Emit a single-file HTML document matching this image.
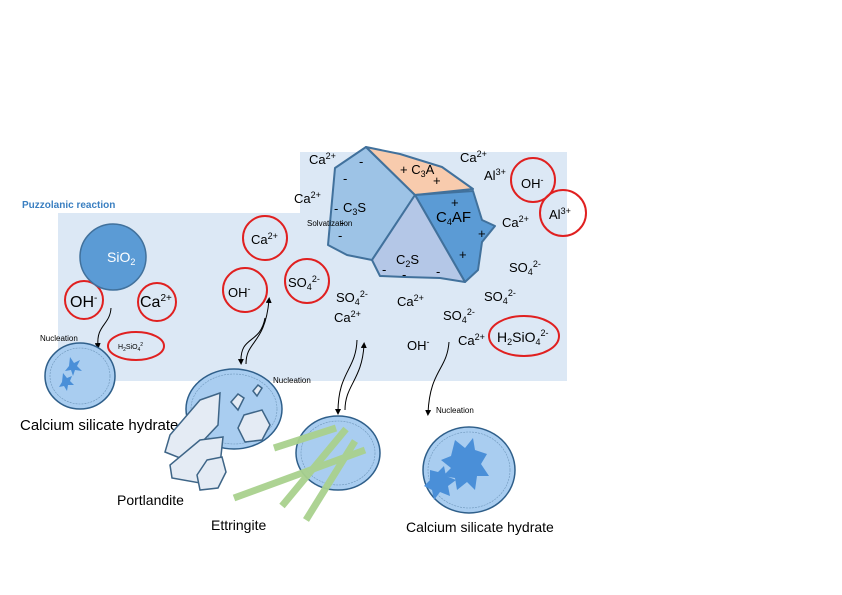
<!DOCTYPE html>
<html><head><meta charset="utf-8"><style>
html,body{margin:0;padding:0;background:#fff;}
svg{display:block;font-family:"Liberation Sans","DejaVu Sans",sans-serif;}
</style></head><body>
<svg width="842" height="595" viewBox="0 0 842 595" xmlns="http://www.w3.org/2000/svg">
<defs>
<marker id="ah" markerWidth="6" markerHeight="6" refX="3" refY="3" orient="auto"><path d="M0,0 L6,3 L0,6 z" fill="#000"/></marker>
</defs>
<!-- background -->
<path d="M300,152 H567 V381 H58 V213 H300 Z" fill="#dce8f5"/>
<text x="22" y="208" font-size="10" font-weight="bold" fill="#3a7fc1">Puzzolanic reaction</text>

<!-- cement grain -->
<g stroke="#41719c" stroke-width="2" stroke-linejoin="round">
<polygon points="366,147 335,168 328,245 347,255 372,260 415,195" fill="#9dc3e6"/>
<polygon points="366,147 400,154 442,167 473,189 415,195" fill="#f8cbad"/>
<polygon points="415,195 473,191 482,220 495,226 482,242 478,270 465,282" fill="#5b9bd5"/>
<polygon points="415,195 465,282 440,278 405,277 380,276 372,260" fill="#b4c7e7"/>
</g>
<g font-size="13" fill="#000">
<text x="400" y="174">+ C<tspan font-size="9" dy="3">3</tspan><tspan dy="-3">A</tspan></text>
<text x="433" y="185">+</text>
<text x="359" y="166">-</text>
<text x="343" y="183">-</text>
<text x="343" y="212">C<tspan font-size="9" dy="3">3</tspan><tspan dy="-3">S</tspan></text>
<text x="334" y="213">-</text>
<text x="338" y="240">-</text>
<text x="340" y="227">-</text>
<text x="451" y="207">+</text>
<text x="436" y="222" font-size="15">C<tspan font-size="9" dy="3">4</tspan><tspan dy="-3">AF</tspan></text>
<text x="478" y="238">+</text>
<text x="459" y="259">+</text>
<text x="396" y="264">C<tspan font-size="9" dy="3">2</tspan><tspan dy="-3">S</tspan></text>
<text x="382" y="274">-</text>
<text x="402" y="279">-</text>
<text x="436" y="276">-</text>
<text x="307" y="226" font-size="8">Solvatization</text>
</g>

<!-- free ion labels -->
<g font-size="13" fill="#000">
<text x="309" y="164">Ca<tspan font-size="9" dy="-5">2+</tspan></text>
<text x="294" y="203">Ca<tspan font-size="9" dy="-5">2+</tspan></text>
<text x="460" y="162">Ca<tspan font-size="9" dy="-5">2+</tspan></text>
<text x="484" y="180">Al<tspan font-size="9" dy="-5">3+</tspan></text>
<text x="502" y="227">Ca<tspan font-size="9" dy="-5">2+</tspan></text>
<text x="509" y="272">SO<tspan font-size="9" dy="3">4</tspan><tspan font-size="9" dy="-8">2-</tspan></text>
<text x="484" y="301">SO<tspan font-size="9" dy="3">4</tspan><tspan font-size="9" dy="-8">2-</tspan></text>
<text x="443" y="320">SO<tspan font-size="9" dy="3">4</tspan><tspan font-size="9" dy="-8">2-</tspan></text>
<text x="336" y="302">SO<tspan font-size="9" dy="3">4</tspan><tspan font-size="9" dy="-8">2-</tspan></text>
<text x="334" y="322">Ca<tspan font-size="9" dy="-5">2+</tspan></text>
<text x="397" y="306">Ca<tspan font-size="9" dy="-5">2+</tspan></text>
<text x="407" y="350">OH<tspan font-size="9" dy="-5">-</tspan></text>
<text x="458" y="345">Ca<tspan font-size="9" dy="-5">2+</tspan></text>
</g>

<!-- red circled ions -->
<g fill="none" stroke="#e02020" stroke-width="2">
<circle cx="84" cy="300" r="19"/>
<circle cx="157" cy="302" r="19"/>
<ellipse cx="136" cy="346" rx="28" ry="14"/>
<circle cx="265" cy="238" r="22"/>
<circle cx="245" cy="290" r="22"/>
<circle cx="307" cy="281" r="22"/>
<circle cx="533" cy="180" r="22"/>
<circle cx="563" cy="213" r="23"/>
<ellipse cx="524" cy="336" rx="35" ry="20"/>
</g>
<g font-size="13" fill="#000">
<text x="70" y="307" font-size="16">OH<tspan font-size="10" dy="-6">-</tspan></text>
<text x="140" y="307" font-size="16">Ca<tspan font-size="10" dy="-6">2+</tspan></text>
<text x="118" y="349" font-size="7">H<tspan dy="2" font-size="5">2</tspan><tspan dy="-2">SiO</tspan><tspan dy="2" font-size="5">4</tspan><tspan dy="-5" font-size="5">2</tspan></text>
<text x="251" y="244">Ca<tspan font-size="9" dy="-5">2+</tspan></text>
<text x="228" y="297">OH<tspan font-size="9" dy="-5">-</tspan></text>
<text x="288" y="287">SO<tspan font-size="9" dy="3">4</tspan><tspan font-size="9" dy="-8">2-</tspan></text>
<text x="521" y="188">OH<tspan font-size="9" dy="-5">-</tspan></text>
<text x="549" y="219">Al<tspan font-size="9" dy="-5">3+</tspan></text>
<text x="497" y="342" font-size="14">H<tspan font-size="9" dy="3">2</tspan><tspan dy="-3">SiO</tspan><tspan font-size="9" dy="3">4</tspan><tspan font-size="9" dy="-9">2-</tspan></text>
</g>

<!-- SiO2 -->
<circle cx="113" cy="257" r="33" fill="#5b9bd5" stroke="#41719c" stroke-width="1.5"/>
<text x="107" y="262" font-size="14" fill="#fff">SiO<tspan font-size="9" dy="3">2</tspan></text>

<!-- arrows -->
<g fill="none" stroke="#000" stroke-width="1">
<path d="M111,308 C110,325 96,325 98,346" marker-end="url(#ah)"/>
<path d="M265,318 C260,345 240,335 241,362" marker-end="url(#ah)"/>
<path d="M246,364 C246,340 265,345 269,300" marker-end="url(#ah)"/>
<path d="M357,340 C356,370 338,372 338,412" marker-end="url(#ah)"/>
<path d="M345,410 C345,385 362,380 364,345" marker-end="url(#ah)"/>
<path d="M449,342 C447,370 430,370 428,413" marker-end="url(#ah)"/>
</g>
<g font-size="8" fill="#000">
<text x="40" y="341">Nucleation</text>
<text x="273" y="383">Nucleation</text>
<text x="436" y="413">Nucleation</text>
</g>

<!-- CSH left bubble -->
<ellipse cx="80" cy="376" rx="35" ry="33" fill="#a9cdf0" stroke="#2f5f8a" stroke-width="1.5"/>
<ellipse cx="80" cy="376" rx="30" ry="28" fill="none" stroke="#6f97bb" stroke-width="0.6" stroke-dasharray="2,1"/>
<path d="M70,357 l4,6 l6,-3 l-3,6 l5,5 l-7,-1 l-2,6 l-2,-6 l-6,1 l4,-5 z" fill="#4a8fd8"/>
<path d="M63,373 l4,5 l5,-2 l-2,5 l4,4 l-6,0 l-1,6 l-3,-5 l-5,1 l3,-5 z" fill="#4a8fd8"/>
<text x="20" y="430" font-size="15" fill="#000">Calcium silicate hydrate</text>

<!-- Portlandite -->
<ellipse cx="234" cy="409" rx="48" ry="40" fill="#a9cdf0" stroke="#2f5f8a" stroke-width="1.5"/>
<ellipse cx="234" cy="409" rx="43" ry="35" fill="none" stroke="#6f97bb" stroke-width="0.6" stroke-dasharray="2,1"/>
<g fill="#e4ebf4" stroke="#3e6587" stroke-width="1.5">
<polygon points="200,400 220,393 218,425 185,460 165,452 170,435"/>
<polygon points="200,440 223,437 220,465 200,483 172,478 170,465"/>
<polygon points="207,460 222,457 226,472 218,488 200,490 197,475"/>
<polygon points="244,415 262,410 270,425 262,440 245,442 238,428"/>
<polygon points="231,402 238,394 244,398 238,410"/>
<polygon points="253,391 258,385 262,388 257,396"/>
</g>
<text x="117" y="505" font-size="14" fill="#000">Portlandite</text>

<!-- Ettringite -->
<ellipse cx="338" cy="453" rx="42" ry="37" fill="#a9cdf0" stroke="#2f5f8a" stroke-width="1.5"/>
<ellipse cx="338" cy="453" rx="37" ry="32" fill="none" stroke="#6f97bb" stroke-width="0.6" stroke-dasharray="2,1"/>
<g stroke="#a9d18e" stroke-width="7" stroke-linecap="butt" opacity="0.95">
<line x1="274" y1="448" x2="336" y2="428"/>
<line x1="282" y1="506" x2="346" y2="429"/>
<line x1="306" y1="520" x2="355" y2="441"/>
<line x1="234" y1="498" x2="365" y2="450"/>
</g>
<text x="211" y="530" font-size="14" fill="#000">Ettringite</text>

<!-- CSH right -->
<ellipse cx="469" cy="470" rx="46" ry="43" fill="#a9cdf0" stroke="#2f5f8a" stroke-width="1.5"/>
<ellipse cx="469" cy="470" rx="41" ry="38" fill="none" stroke="#6f97bb" stroke-width="0.6" stroke-dasharray="2,1"/>
<path d="M455,440 l10,8 l8,-10 l2,12 l12,4 l-6,10 l8,12 l-12,0 l-2,14 l-8,-8 l-10,8 l-2,-12 l-12,-2 l8,-8 l-10,-8 l10,-4 z" fill="#4a8fd8"/>
<path d="M430,470 l8,2 l6,-6 l2,10 l10,4 l-8,6 l2,10 l-10,-4 l-6,8 l-2,-10 l-8,-4 l6,-6 z" fill="#4a8fd8"/>
<text x="406" y="532" font-size="14" fill="#000">Calcium silicate hydrate</text>
</svg>
</body></html>
